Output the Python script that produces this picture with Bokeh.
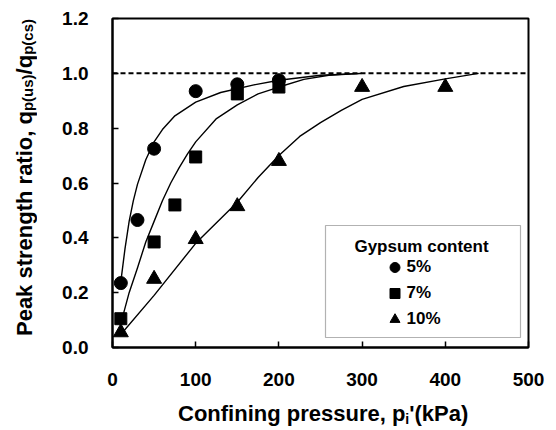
from bokeh.plotting import figure
from bokeh.models import Range1d, Label, BoxAnnotation, Legend, LegendItem, FixedTicker, Div
from bokeh.layouts import row, column
from bokeh.embed import file_html
from bokeh.resources import INLINE

# ---- data ----
x5 = [10, 30, 50, 100, 150, 200]
y5 = [0.235, 0.465, 0.725, 0.935, 0.96, 0.975]
x7 = [10, 50, 75, 100, 150, 200]
y7 = [0.105, 0.385, 0.52, 0.695, 0.925, 0.95]
x10 = [10, 50, 100, 150, 200, 300, 400]
y10 = [0.055, 0.25, 0.395, 0.515, 0.68, 0.95, 0.95]

fit5_x = [10, 15, 20, 25, 30, 40, 50, 60, 75, 100, 130, 170, 200, 250, 300]
fit5_y = [0.24, 0.36, 0.46, 0.535, 0.595, 0.685, 0.75, 0.795, 0.845, 0.895, 0.93, 0.958, 0.975, 0.993, 1.0]
fit7_x = [12, 20, 30, 40, 50, 60, 70, 80, 90, 100, 125, 150, 175, 200, 230, 260, 300]
fit7_y = [0.11, 0.2, 0.29, 0.385, 0.46, 0.535, 0.6, 0.655, 0.705, 0.75, 0.835, 0.885, 0.925, 0.95, 0.978, 0.993, 1.0]
fit10_x = [12, 50, 100, 150, 175, 200, 225, 250, 275, 300, 350, 400, 440]
fit10_y = [0.055, 0.19, 0.38, 0.53, 0.62, 0.70, 0.77, 0.82, 0.865, 0.905, 0.952, 0.98, 1.0]

ref_x = [0, 500]
ref_y = [1.0, 1.0]

x_ticks = [0, 100, 200, 300, 400, 500]
y_ticks = [0.0, 0.2, 0.4, 0.6, 0.8, 1.0, 1.2]
y_tick_labels = ["0.0", "0.2", "0.4", "0.6", "0.8", "1.0", "1.2"]
series_labels = ["5%", "7%", "10%"]
legend_title = "Gypsum content"
x_title_html = "Confining pressure, p<sub>i</sub>'(kPa)"
y_title_html = "Peak strength ratio, q<sub>p(us)</sub>/q<sub>p(cs)</sub>"

# ---- layout ----
W, H = 556, 430
YDIV_W = 40
PW, PH = W - YDIV_W, 390
FL, FR, FT, FB = 112, 528, 18, 347          # frame in page pixels
XMAX, YMAX = 500, 1.2
FONT = "Liberation Sans"

def X(px):
    return (px - FL) * XMAX / (FR - FL)

def Y(py):
    return (FB - py) * YMAX / (FB - FT)

p = figure(width=PW, height=PH, x_range=Range1d(0, XMAX), y_range=Range1d(0, YMAX),
           output_backend="svg", toolbar_location=None,
           min_border_left=FL - YDIV_W, min_border_right=W - FR,
           min_border_top=FT, min_border_bottom=PH - FB, margin=0)
p.grid.visible = False
p.outline_line_color = "black"
p.outline_line_width = 2
p.background_fill_color = "white"
p.border_fill_color = "white"

for ax in (p.xaxis[0], p.yaxis[0]):
    ax.axis_line_width = 2
    ax.axis_line_color = "black"
    ax.major_tick_in = 6
    ax.major_tick_out = 0
    ax.major_tick_line_width = 1.5
    ax.minor_tick_line_color = None
    ax.major_label_text_font = FONT
    ax.major_label_text_font_style = "bold"
    ax.major_label_text_font_size = "19px"
    ax.major_label_text_color = "black"

p.xaxis.ticker = FixedTicker(ticks=x_ticks)
p.xaxis.major_label_standoff = 25
p.yaxis.ticker = FixedTicker(ticks=y_ticks)
p.yaxis.major_label_overrides = {t: s for t, s in zip(y_ticks, y_tick_labels)}
p.yaxis.major_label_standoff = 24

# fitted curves and reference line
p.line(fit5_x, fit5_y, line_color="black", line_width=1.4)
p.line(fit7_x, fit7_y, line_color="black", line_width=1.4)
p.line(fit10_x, fit10_y, line_color="black", line_width=1.4)
p.line(ref_x, ref_y, line_color="black", line_width=2, line_dash="5 3")

r5 = p.scatter(x5, y5, marker="circle", size=13, color="black")
r7 = p.scatter(x7, y7, marker="square", size=12, color="black")
r10 = p.scatter(x10, y10, marker="triangle", size=15, color="black")

# legend box + title
box = BoxAnnotation(left=X(325), right=X(520), top=Y(225), bottom=Y(337),
                    fill_color="white", fill_alpha=1.0,
                    line_color="black", line_width=1.2)
p.add_layout(box)
p.add_layout(Label(x=X(421), y=Y(246), text=legend_title, text_align="center",
                   text_baseline="alphabetic", text_font=FONT, text_font_style="bold",
                   text_font_size="17px", text_color="black"))

legend = Legend(items=[LegendItem(label=series_labels[0], renderers=[r5]),
                       LegendItem(label=series_labels[1], renderers=[r7]),
                       LegendItem(label=series_labels[2], renderers=[r10])],
                location=(381.5 - FL, FB - 332), padding=0, margin=0, spacing=0,
                glyph_width=25, glyph_height=26, label_height=26, label_standoff=-6,
                border_line_color=None, background_fill_alpha=0,
                label_text_font=FONT, label_text_font_style="bold",
                label_text_font_size="17px", label_text_color="black")
p.add_layout(legend)

# axis titles as HTML (with subscripts)
font_css = "font-family:'Liberation Sans',Arial,sans-serif;font-weight:bold;color:black;"
sub_css = "<sub style=\"font-size:15px;line-height:22px;vertical-align:-3px\">"
y_html = y_title_html.replace("<sub>", sub_css)
x_html = x_title_html.replace("<sub>", sub_css.replace("15px", "14px"))

ydiv = Div(width=YDIV_W, height=PH, margin=0, text=(
    f'<div style="position:relative;width:{YDIV_W}px;height:{PH}px;">'
    f'<div style="position:absolute;left:14px;bottom:{PH - 336}px;writing-mode:vertical-rl;'
    f'transform:rotate(180deg);white-space:nowrap;font-size:22px;line-height:22px;{font_css}">'
    f'{y_html}</div></div>'))

xdiv = Div(width=W, height=H - PH, margin=0, text=(
    f'<div style="position:relative;width:{W}px;height:{H - PH}px;">'
    f'<div style="position:absolute;left:178px;top:13px;white-space:nowrap;'
    f'font-size:22px;line-height:22px;{font_css}">{x_html}</div></div>'))

layout = column(row(ydiv, p, margin=0, spacing=0), xdiv, margin=0, spacing=0)

open("out.html", "w").write(file_html(layout, INLINE))
